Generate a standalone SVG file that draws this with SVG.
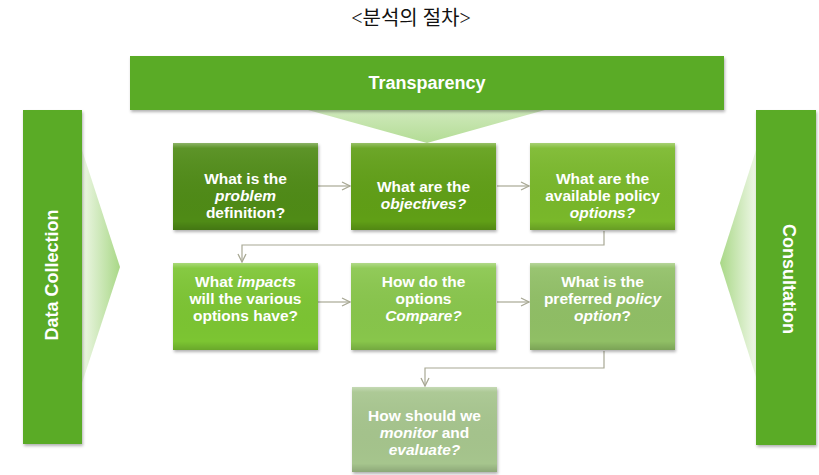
<svg xmlns="http://www.w3.org/2000/svg" width="819" height="475" viewBox="0 0 819 475">
<style>
.t{font-family:"Liberation Sans",Arial,sans-serif;font-weight:bold;fill:#ffffff;text-anchor:middle}
.bx{font-size:15.5px}
.bar{font-size:18px}
.i{font-style:italic}
.con{fill:none;stroke:#a8a894;stroke-width:1.2}
.title{font-family:"Liberation Serif","Noto Sans CJK KR",serif;font-size:20px;fill:#111;text-anchor:middle}
</style>
<defs>
<linearGradient id="triT" x1="0" y1="0" x2="0" y2="1">
<stop offset="0" stop-color="#cfe9bb"/>
<stop offset="1" stop-color="#b3dc95"/>
</linearGradient>
<linearGradient id="triL" x1="0" y1="0" x2="1" y2="0">
<stop offset="0" stop-color="#eef7e6"/>
<stop offset="1" stop-color="#a9d887"/>
</linearGradient>
<linearGradient id="triR" x1="1" y1="0" x2="0" y2="0">
<stop offset="0" stop-color="#eef7e6"/>
<stop offset="1" stop-color="#a9d887"/>
</linearGradient>
<linearGradient id="shine" x1="0" y1="0" x2="0" y2="1">
<stop offset="0" stop-color="#ffffff" stop-opacity="0.35"/>
<stop offset="0.06" stop-color="#ffffff" stop-opacity="0.08"/>
<stop offset="0.9" stop-color="#000000" stop-opacity="0"/>
<stop offset="1" stop-color="#000000" stop-opacity="0.15"/>
</linearGradient>
<filter id="sh" x="-10%" y="-10%" width="125%" height="130%">
<feDropShadow dx="1" dy="2" stdDeviation="1.5" flood-color="#000" flood-opacity="0.3"/>
</filter>
<marker id="arr" viewBox="0 0 10 10" refX="9" refY="5" markerWidth="10" markerHeight="10" markerUnits="userSpaceOnUse" orient="auto">
<path d="M1,1 L9,5 L1,9" fill="none" stroke="#a8a894" stroke-width="1.3"/>
</marker>
</defs>
<rect width="819" height="475" fill="#ffffff"/>
<text class="title" x="411" y="25">&lt;분석의 절차&gt;</text>

<g id="transparency">
<polygon points="308,110 545,110 427,143" fill="url(#triT)"/>
<rect x="130" y="56" width="594" height="54" fill="#5aab27" filter="url(#sh)"/>
<text class="t bar" x="427" y="89">Transparency</text>
</g>
<g id="data-collection">
<polygon points="82,150 120,267 82,383" fill="url(#triL)"/>
<rect x="23" y="110" width="59" height="334" fill="#5aab27" filter="url(#sh)"/>
<text class="t bar" transform="translate(58,275) rotate(-90)">Data Collection</text>
</g>
<g id="consultation">
<polygon points="756,150 720,263 756,377" fill="url(#triR)"/>
<rect x="756" y="110" width="60" height="335" fill="#5aab27" filter="url(#sh)"/>
<text class="t bar" transform="translate(783,279) rotate(90)">Consultation</text>
</g>

<g id="connectors">
<line class="con" x1="318" y1="186" x2="350" y2="186" marker-end="url(#arr)"/>
<line class="con" x1="497" y1="186" x2="529" y2="186" marker-end="url(#arr)"/>
<polyline class="con" points="604,231 604,245 242,245 242,262" marker-end="url(#arr)"/>
<line class="con" x1="318" y1="302" x2="350" y2="302" marker-end="url(#arr)"/>
<line class="con" x1="497" y1="302" x2="529" y2="302" marker-end="url(#arr)"/>
<polyline class="con" points="604,351 604,368 425,368 425,386" marker-end="url(#arr)"/>
</g>

<g id="n1">
<rect x="173" y="143" width="145" height="87" fill="#4f8b15" filter="url(#sh)"/>
<rect x="173" y="143" width="145" height="87" fill="url(#shine)"/>
<text class="t bx" x="245.5" y="184">What is the</text>
<text class="t bx i" x="245.5" y="201">problem</text>
<text class="t bx" x="245.5" y="218">definition?</text>
</g>
<g id="n2">
<rect x="351" y="143" width="145" height="87" fill="#609f16" filter="url(#sh)"/>
<rect x="351" y="143" width="145" height="87" fill="url(#shine)"/>
<text class="t bx" x="423.5" y="192">What are the</text>
<text class="t bx i" x="423.5" y="209">objectives?</text>
</g>
<g id="n3">
<rect x="530" y="143" width="145" height="87" fill="#79b829" filter="url(#sh)"/>
<rect x="530" y="143" width="145" height="87" fill="url(#shine)"/>
<text class="t bx" x="602.5" y="184">What are the</text>
<text class="t bx" x="602.5" y="201">available policy</text>
<text class="t bx i" x="602.5" y="218">options?</text>
</g>
<g id="n4">
<rect x="173" y="263" width="145" height="87" fill="#7cc532" filter="url(#sh)"/>
<rect x="173" y="263" width="145" height="87" fill="url(#shine)"/>
<text class="t bx" x="245.5" y="287">What <tspan class="i">impacts</tspan></text>
<text class="t bx" x="245.5" y="304">will the various</text>
<text class="t bx" x="245.5" y="321">options have?</text>
</g>
<g id="n5">
<rect x="351" y="263" width="145" height="87" fill="#88c64b" filter="url(#sh)"/>
<rect x="351" y="263" width="145" height="87" fill="url(#shine)"/>
<text class="t bx" x="423.5" y="287">How do the</text>
<text class="t bx" x="423.5" y="304">options</text>
<text class="t bx i" x="423.5" y="321">Compare?</text>
</g>
<g id="n6">
<rect x="530" y="263" width="145" height="87" fill="#90bf65" filter="url(#sh)"/>
<rect x="530" y="263" width="145" height="87" fill="url(#shine)"/>
<text class="t bx" x="602.5" y="287">What is the</text>
<text class="t bx" x="602.5" y="304">preferred <tspan class="i">policy</tspan></text>
<text class="t bx" x="602.5" y="321"><tspan class="i">option</tspan>?</text>
</g>
<g id="n7">
<rect x="352" y="387" width="145" height="85" fill="#a6c58d" filter="url(#sh)"/>
<rect x="352" y="387" width="145" height="85" fill="url(#shine)"/>
<text class="t bx" x="424.5" y="421">How should we</text>
<text class="t bx" x="424.5" y="438"><tspan class="i">monitor</tspan> and</text>
<text class="t bx i" x="424.5" y="455">evaluate?</text>
</g>
</svg>
